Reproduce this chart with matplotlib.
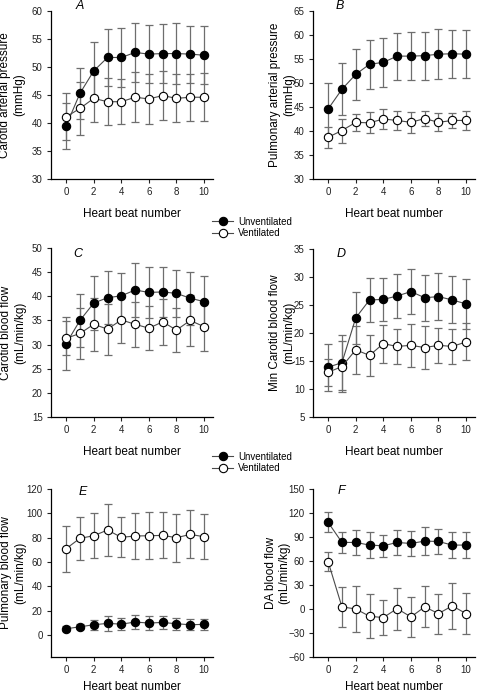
import matplotlib
matplotlib.use('Agg')
import matplotlib.pyplot as plt
from matplotlib.lines import Line2D
import numpy as np

plt.rcParams['font.family'] = ['Liberation Sans', 'DejaVu Sans']

beats = list(range(11))

# A - carotid arterial pressure (mmHg)
a_unv = [39.5, 45.3, 49.3, 51.7, 51.7, 52.6, 52.3, 52.4, 52.4, 52.3, 52.1]
a_unv_err = [4.1, 4.6, 5.1, 5.1, 5.3, 5.2, 5.2, 5.3, 5.4, 5.1, 5.2]
a_ven = [41.1, 42.6, 44.4, 43.8, 43.8, 44.6, 44.3, 44.9, 44.4, 44.6, 44.6]
a_ven_err = [4.2, 4.7, 4.3, 4.2, 4.0, 4.5, 4.5, 4.3, 4.3, 4.2, 4.3]

# B - pulmonary arterial pressure (mmHg)
b_unv = [44.6, 48.7, 51.8, 53.9, 54.3, 55.6, 55.6, 55.7, 56.0, 56.1, 56.0]
b_unv_err = [5.4, 5.4, 5.3, 5.1, 5.1, 4.9, 5.0, 5.0, 5.2, 5.0, 5.0]
b_ven = [38.7, 40.1, 41.8, 41.7, 42.5, 42.2, 41.8, 42.6, 41.8, 42.2, 42.2]
b_ven_err = [2.2, 2.5, 1.8, 2.2, 2.1, 1.9, 2.2, 1.6, 1.9, 1.6, 1.9]

# C - carotid blood flow
c_unv = [30.2, 35.0, 38.6, 39.7, 40.1, 41.3, 40.8, 40.9, 40.6, 39.6, 38.9]
c_unv_err = [5.5, 5.5, 5.5, 5.5, 4.7, 5.6, 5.2, 5.2, 4.9, 5.5, 5.4]
c_ven = [31.3, 32.3, 34.2, 33.2, 35.1, 34.2, 33.4, 34.7, 33.0, 35.0, 33.7]
c_ven_err = [3.5, 5.2, 5.5, 5.3, 4.8, 4.6, 4.6, 4.7, 4.6, 5.3, 5.0]

# D - min carotid blood flow
d_unv = [13.9, 14.7, 22.7, 25.9, 26.0, 26.6, 27.4, 26.3, 26.5, 25.9, 25.2]
d_unv_err = [4.2, 4.9, 4.7, 4.0, 3.9, 4.0, 4.0, 4.1, 4.2, 4.2, 4.5]
d_ven = [13.0, 14.0, 17.0, 16.0, 18.1, 17.6, 17.8, 17.4, 17.8, 17.6, 18.4]
d_ven_err = [2.4, 4.5, 4.3, 3.7, 3.4, 3.2, 3.8, 3.8, 3.1, 3.2, 3.3]

# E - pulmonary blood flow
e_unv = [5.2, 6.8, 8.5, 9.6, 9.0, 10.7, 9.9, 10.4, 9.3, 8.5, 8.8]
e_unv_err = [2.0, 2.0, 4.0, 6.0, 5.0, 6.0, 5.5, 5.5, 5.0, 4.5, 4.5]
e_ven = [71.0, 79.5, 81.6, 86.3, 80.3, 81.4, 81.6, 81.9, 80.0, 82.7, 80.8]
e_ven_err = [18.9, 17.8, 18.5, 21.0, 16.3, 19.0, 19.4, 18.9, 19.6, 19.7, 18.7]

# F - DA blood flow
f_unv = [108.2, 83.2, 83.2, 79.9, 79.0, 83.2, 81.9, 84.9, 84.4, 79.9, 79.9]
f_unv_err = [12.5, 13.6, 15.5, 16.5, 13.6, 16.0, 15.5, 17.0, 16.0, 16.3, 16.3]
f_ven = [59.0, 2.6, 0.1, -9.1, -10.7, 0.5, -9.9, 2.6, -5.7, 3.9, -5.7]
f_ven_err = [11.7, 24.6, 28.6, 27.6, 22.4, 26.3, 25.0, 25.7, 25.0, 28.6, 25.8]

panels = [
    ('A', 'Carotid arterial pressure\n(mmHg)', a_unv, a_unv_err, a_ven, a_ven_err, (30, 60), np.arange(30, 61, 5)),
    ('B', 'Pulmonary arterial pressure\n(mmHg)', b_unv, b_unv_err, b_ven, b_ven_err, (30, 65), np.arange(30, 66, 5)),
    ('C', 'Carotid blood flow\n(mL/min/kg)', c_unv, c_unv_err, c_ven, c_ven_err, (15, 50), np.arange(15, 51, 5)),
    ('D', 'Min Carotid blood flow\n(mL/min/kg)', d_unv, d_unv_err, d_ven, d_ven_err, (5, 35), np.arange(5, 36, 5)),
    ('E', 'Pulmonary blood flow\n(mL/min/kg)', e_unv, e_unv_err, e_ven, e_ven_err, (-18, 120), np.arange(0, 121, 20)),
    ('F', 'DA blood flow\n(mL/min/kg)', f_unv, f_unv_err, f_ven, f_ven_err, (-60, 150), np.arange(-60, 151, 30)),
]

W, H = 480, 695
fig = plt.figure(figsize=(4.8, 6.95), dpi=100)

# axes boxes in pixels: left, top, right, bottom
boxes = [(51, 11, 213, 179), (313, 11, 475, 179),
         (51, 248, 213, 417), (313, 249, 475, 417),
         (51, 489, 213, 657), (313, 489, 475, 657)]
letter_pos = [(80, 6), (340, 6), (78, 254), (341, 254), (83, 492), (341, 491)]
# right edge of the (rotated) y label block, in axes coords
ylab_x = [-0.16, -0.11, -0.155, -0.11, -0.155, -0.14]
xlab_y = [-0.17, -0.17, -0.17, -0.17, -0.145, -0.145]

err_col = '#6e6e6e'
line_col = '#4a4a4a'

for i, (letter, ylabel, unv, unv_err, ven, ven_err, ylim, yticks) in enumerate(panels):
    l, t, r, b = boxes[i]
    ax = fig.add_axes([l / W, 1 - b / H, (r - l) / W, (b - t) / H])
    ax.errorbar(beats, unv, yerr=unv_err, fmt='none', ecolor=err_col, elinewidth=0.9,
                capsize=3, capthick=0.9, zorder=2)
    ax.errorbar(beats, ven, yerr=ven_err, fmt='none', ecolor=err_col, elinewidth=0.9,
                capsize=3, capthick=0.9, zorder=2)
    ax.plot(beats, unv, '-o', color=line_col, lw=0.8, mfc='black', mec='black',
            ms=6, mew=0.8, zorder=3)
    ax.plot(beats, ven, '-o', color=line_col, lw=0.8, mfc='white', mec='black',
            ms=6, mew=0.8, zorder=4)
    ax.set_xlim(-1.1, 10.65)
    ax.set_ylim(*ylim)
    ax.set_xticks(range(0, 11, 2))
    ax.set_yticks(yticks)
    for s in ['top', 'right']:
        ax.spines[s].set_visible(False)
    for s in ['left', 'bottom']:
        ax.spines[s].set_linewidth(0.9)
    ax.tick_params(direction='out', length=3, width=0.8, labelsize=7, pad=3,
                   colors='#222222')
    ax.set_xlabel('Heart beat number', fontsize=8.5)
    ax.xaxis.set_label_coords(0.5, xlab_y[i])
    ax.set_ylabel(ylabel, fontsize=8.5, multialignment='center', linespacing=1.2)
    ax.yaxis.set_label_coords(ylab_x[i], 0.5)
    lx, ly = letter_pos[i]
    fig.text(lx / W, 1 - ly / H, letter, fontsize=9, style='italic',
             ha='center', va='center')

handles = [
    Line2D([], [], color=line_col, lw=0.8, marker='o', mfc='black', mec='black', ms=6, mew=0.8),
    Line2D([], [], color=line_col, lw=0.8, marker='o', mfc='white', mec='black', ms=6, mew=0.8),
]
for yc in (227.5, 462.5):
    fig.legend(handles, ['Unventilated', 'Ventilated'], loc='center left',
               bbox_to_anchor=(212 / W, 1 - yc / H), frameon=False, fontsize=7,
               handlelength=2.2, handletextpad=0.5, labelspacing=0.2,
               borderpad=0, borderaxespad=0)

fig.savefig('out.png', dpi=100)
